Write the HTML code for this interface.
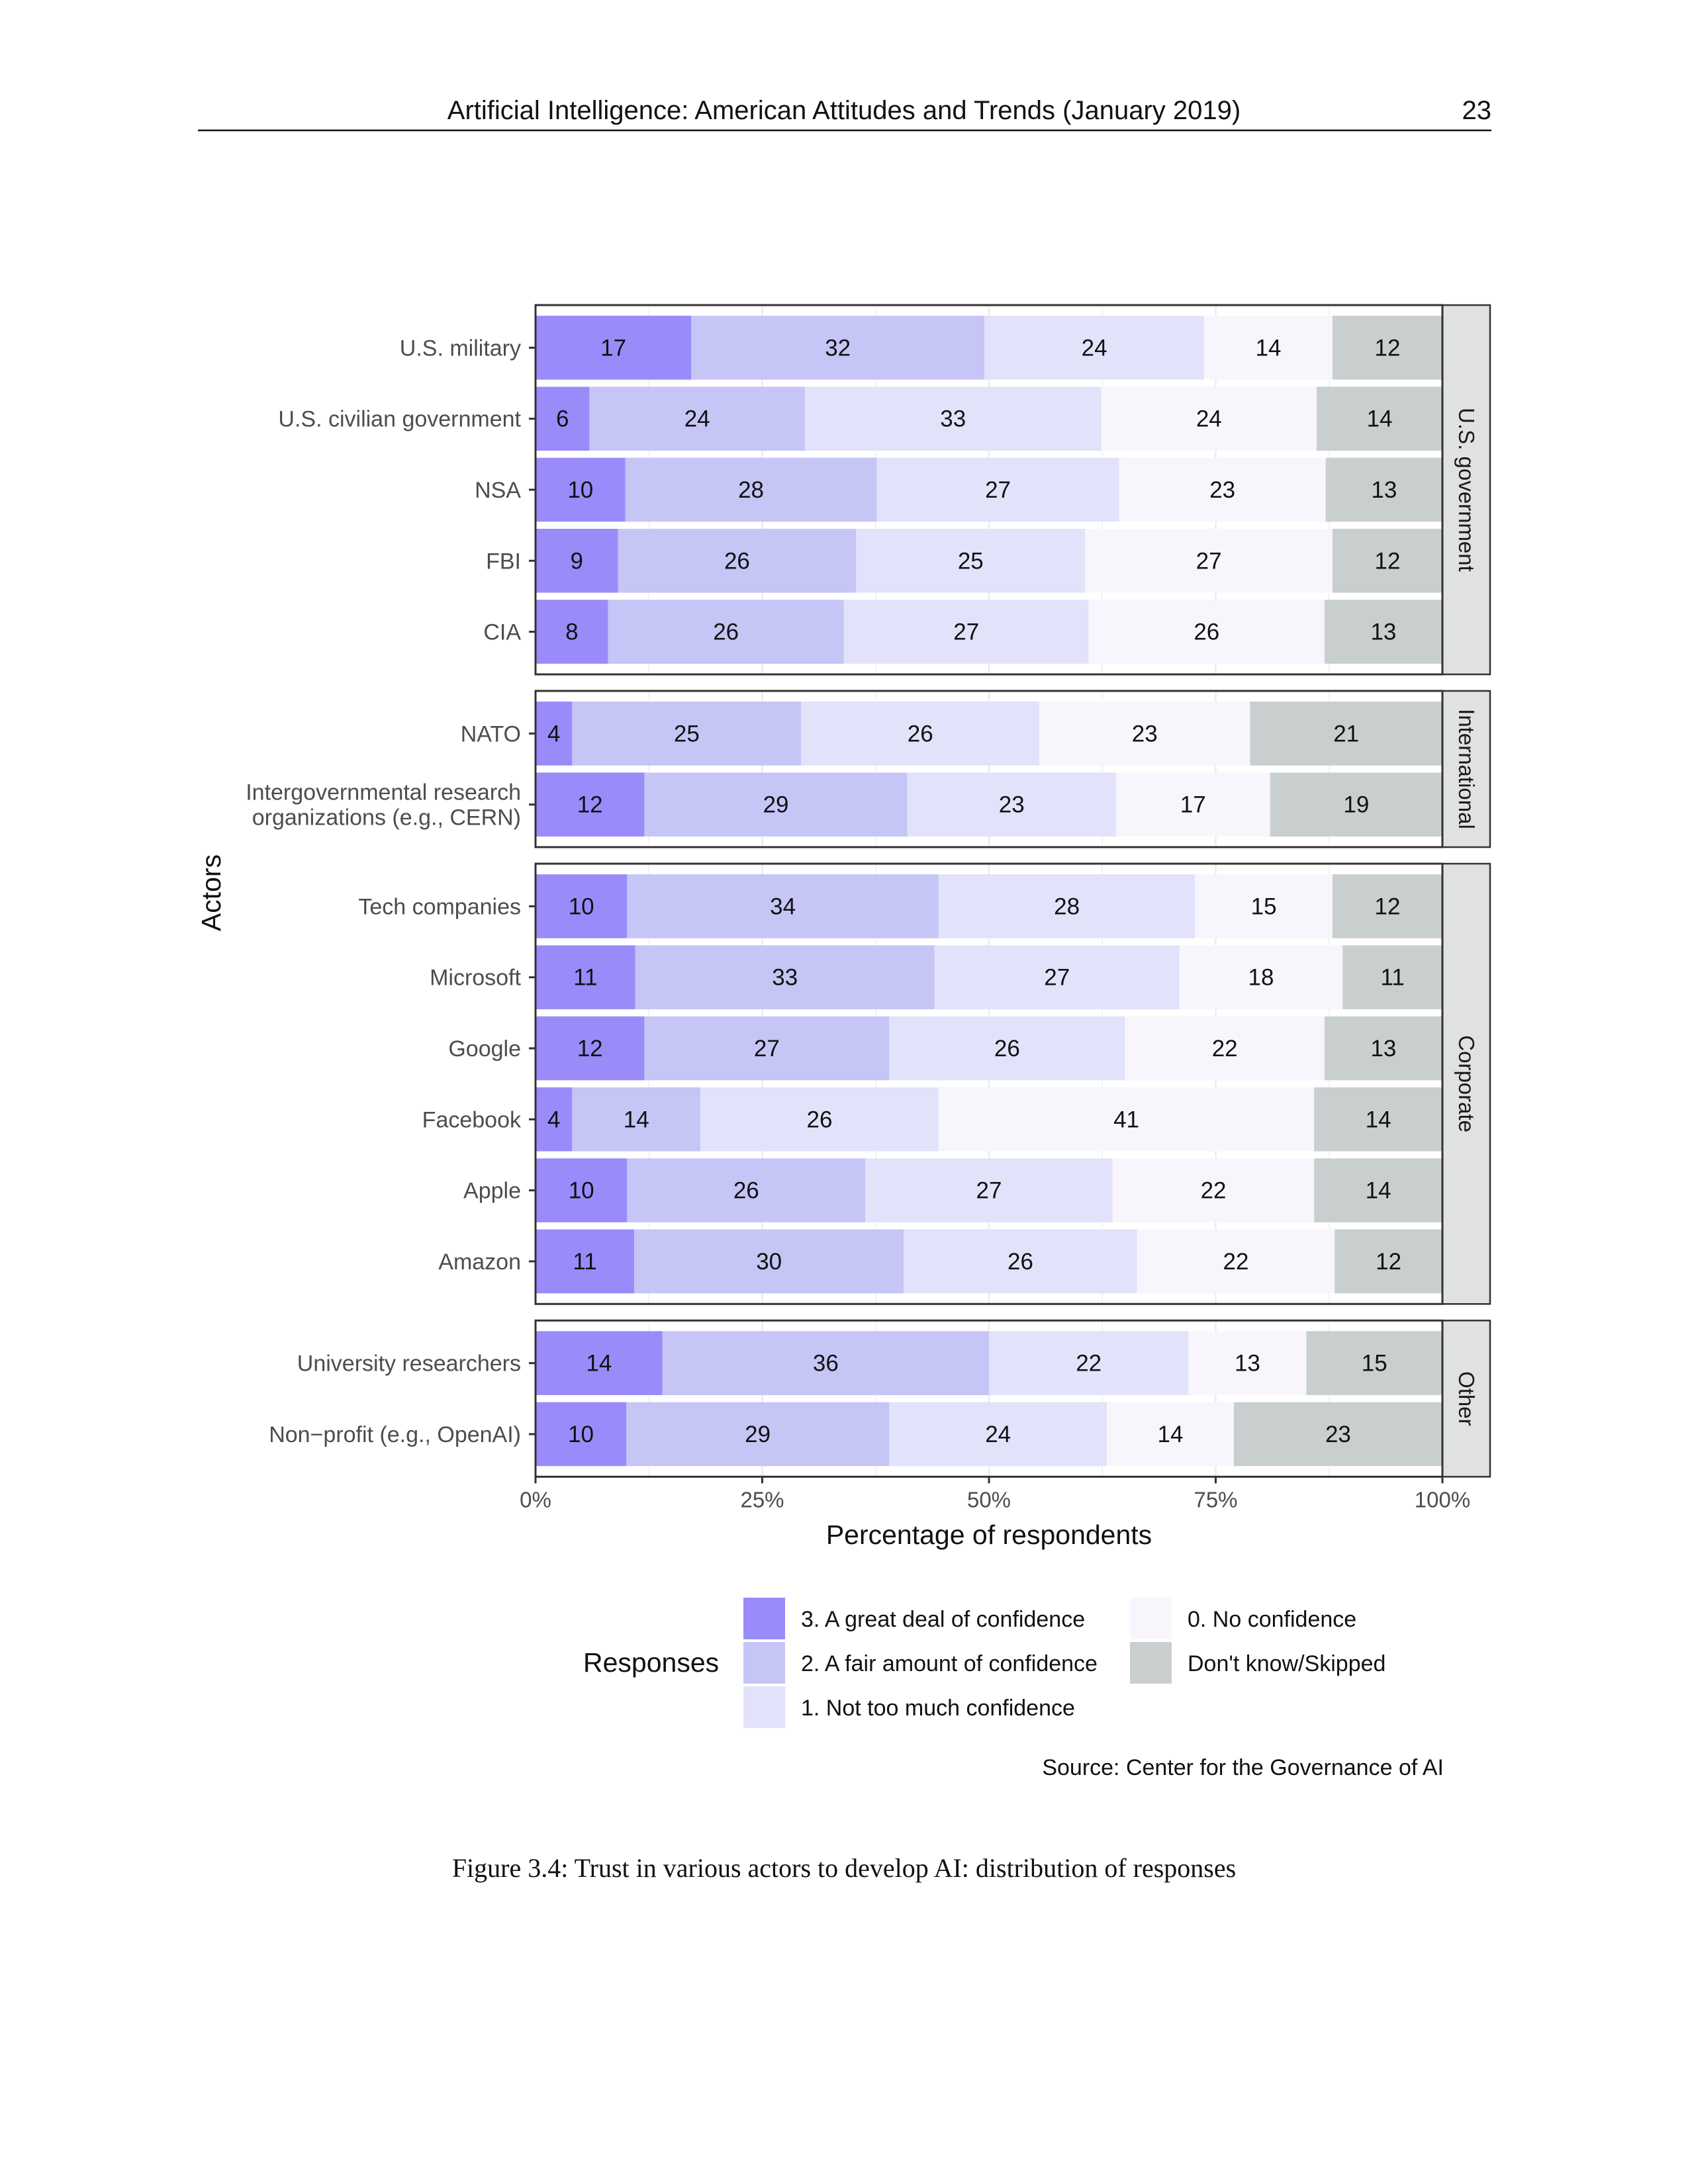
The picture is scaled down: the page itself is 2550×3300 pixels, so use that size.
<!DOCTYPE html>
<html><head><meta charset="utf-8"><style>
html,body{margin:0;padding:0;background:#fff;}
svg{display:block;font-family:"Liberation Sans",sans-serif;}
</style></head><body>
<svg id="page" width="2550" height="3300" viewBox="0 0 2550 3300" xmlns="http://www.w3.org/2000/svg">
<text x="1275" y="180" text-anchor="middle" font-size="40" fill="#111">Artificial Intelligence: American Attitudes and Trends (January 2019)</text>
<text x="2253" y="180" text-anchor="end" font-size="40" fill="#111">23</text>
<line x1="299" y1="197" x2="2253" y2="197" stroke="#111" stroke-width="2.5"/>
<g id="chart"></g>
<text x="1275" y="2836" text-anchor="middle" font-size="40" font-family="Liberation Serif, serif" fill="#111">Figure 3.4: Trust in various actors to develop AI: distribution of responses</text>
</svg>
<script>
const actors = ["U.S. military","U.S. civilian government","NSA","FBI","CIA","NATO","Intergovernmental research|organizations (e.g., CERN)","Tech companies","Microsoft","Google","Facebook","Apple","Amazon","University researchers","Non\u2212profit (e.g., OpenAI)"];
const groups = ["U.S. government","International","Corporate","Other"];
const groupOf = [0,0,0,0,0,1,1,2,2,2,2,2,2,3,3];
const greatDeal = [17,6,10,9,8,4,12,10,11,12,4,10,11,14,10];
const fairAmount = [32,24,28,26,26,25,29,34,33,27,14,26,30,36,29];
const notMuch = [24,33,27,25,27,26,23,28,27,26,26,27,26,22,24];
const noConf = [14,24,23,27,26,23,17,15,18,22,41,22,22,13,14];
const dontKnow = [12,14,13,12,13,21,19,12,11,13,14,14,12,15,23];
const responses = ["3. A great deal of confidence","2. A fair amount of confidence","1. Not too much confidence","0. No confidence","Don't know/Skipped"];
const xTicks = [0,25,50,75,100];
const xTickLabels = ["0%","25%","50%","75%","100%"];

const colors = ["#9a8bfa","#c5c5f6","#e2e2fb","#f8f6fc","#c9cfce"];
const NS="http://www.w3.org/2000/svg";
const chart=document.getElementById('chart');
function mk(tag,attrs,parent){const e=document.createElementNS(NS,tag);for(const k in attrs)e.setAttribute(k,attrs[k]);(parent||chart).appendChild(e);return e;}
const X0=809, X1=2179, STRIPW=72;
const xs=v=>X0+(X1-X0)*v/100;
const U=107.3, GAP=25, TOP0=461;
const panels=[]; let panelTop=TOP0;
groups.forEach((g,gi)=>{const n=groupOf.filter(x=>x===gi).length;const h=(n+0.2)*U;panels.push({top:panelTop,h:h,n:n});panelTop+=h+GAP;});
const series=[greatDeal,fairAmount,notMuch,noConf,dontKnow];
const rowIdx=groups.map(()=>0);
panels.forEach((p,gi)=>{
  const bg=mk('rect',{x:X0,y:p.top,width:X1-X0,height:p.h,fill:'#fff'});
  
  
  for(let v=12.5;v<100;v+=12.5){const gl=mk('line',{x1:xs(v),x2:xs(v),y1:p.top,y2:p.top+p.h,stroke:'#ebebeb',"stroke-width":v%25===0?2.5:1.2});
    
    }
});
actors.forEach((a,i)=>{
  const gi=groupOf[i], p=panels[gi], k=rowIdx[gi]++;
  const cy=p.top+0.6*U+k*U, bh=0.9*U;
  const vals=series.map(s=>s[i]); const tot=vals.reduce((s,v)=>s+v,0);
  let cum=0;
  vals.forEach((v,j)=>{
    const x1=xs(cum/tot*100), x2=xs((cum+v)/tot*100);
    const r=mk('rect',{x:x1,y:cy-bh/2,width:x2-x1,height:bh,fill:colors[j]});
    
    
    const tx=mk('text',{x:(x1+x2)/2,y:cy+12,"text-anchor":"middle","font-size":35,fill:'#111'});
    tx.textContent=v;
    
    
    cum+=v;
  });
  const tk=mk('line',{x1:X0-10,x2:X0,y1:cy,y2:cy,stroke:'#333',"stroke-width":3});
  
  
  const parts=a.split('|');
  parts.forEach((s,pi)=>{
    const tx=mk('text',{x:X0-22,y:cy+12+(pi-(parts.length-1)/2)*38,"text-anchor":"end","font-size":34,fill:'#4d4d4d'});
    tx.textContent=s;
    
    
  });
});
panels.forEach((p,gi)=>{
  const st=mk('rect',{x:X1,y:p.top,width:STRIPW,height:p.h,fill:'#dfe1e2',stroke:'#333',"stroke-width":2.5});
  
  
  const cx=X1+STRIPW/2, cy=p.top+p.h/2;
  const tx=mk('text',{x:cx,y:cy,"text-anchor":"middle","font-size":33,fill:'#1a1a1a',transform:`rotate(90 ${cx} ${cy}) translate(0 11)`});
  tx.textContent=groups[gi];
  
  
  const br=mk('rect',{x:X0,y:p.top,width:X1-X0,height:p.h,fill:'none',stroke:'#333',"stroke-width":3});
  
  
});
const lastPanel=panels[panels.length-1], axY=lastPanel.top+lastPanel.h;
xTicks.forEach((v,i)=>{
  const l=mk('line',{x1:xs(v),x2:xs(v),y1:axY,y2:axY+10,stroke:'#333',"stroke-width":3});
  
  
  const tx=mk('text',{x:xs(v),y:axY+46,"text-anchor":"middle","font-size":33,fill:'#4d4d4d'});
  tx.textContent=xTickLabels[i];
  
  
});
let lbl=mk('text',{x:(X0+X1)/2,y:2333,"text-anchor":"middle","font-size":41,fill:'#111'});
lbl.textContent='Percentage of respondents';


lbl=mk('text',{x:333,y:1349,"text-anchor":"middle","font-size":41,fill:'#111',transform:'rotate(-90 333 1349)'});
lbl.textContent='Actors';


lbl=mk('text',{x:881,y:2526,"text-anchor":"start","font-size":41,fill:'#111'});
lbl.textContent='Responses';


const legPos=[[1123,2414],[1123,2481],[1123,2548],[1707,2414],[1707,2481]];
responses.forEach((r,j)=>{
  const lx=legPos[j][0], ly=legPos[j][1];
  const k=mk('rect',{x:lx,y:ly,width:63,height:63,fill:colors[j]});
  
  
  const lt=mk('text',{x:lx+87,y:ly+44,"font-size":34,fill:'#111'});
  lt.textContent=r;
  
  
});
lbl=mk('text',{x:2181,y:2682,"text-anchor":"end","font-size":34,fill:'#111'});
lbl.textContent='Source: Center for the Governance of AI';


</script>
</body></html>
